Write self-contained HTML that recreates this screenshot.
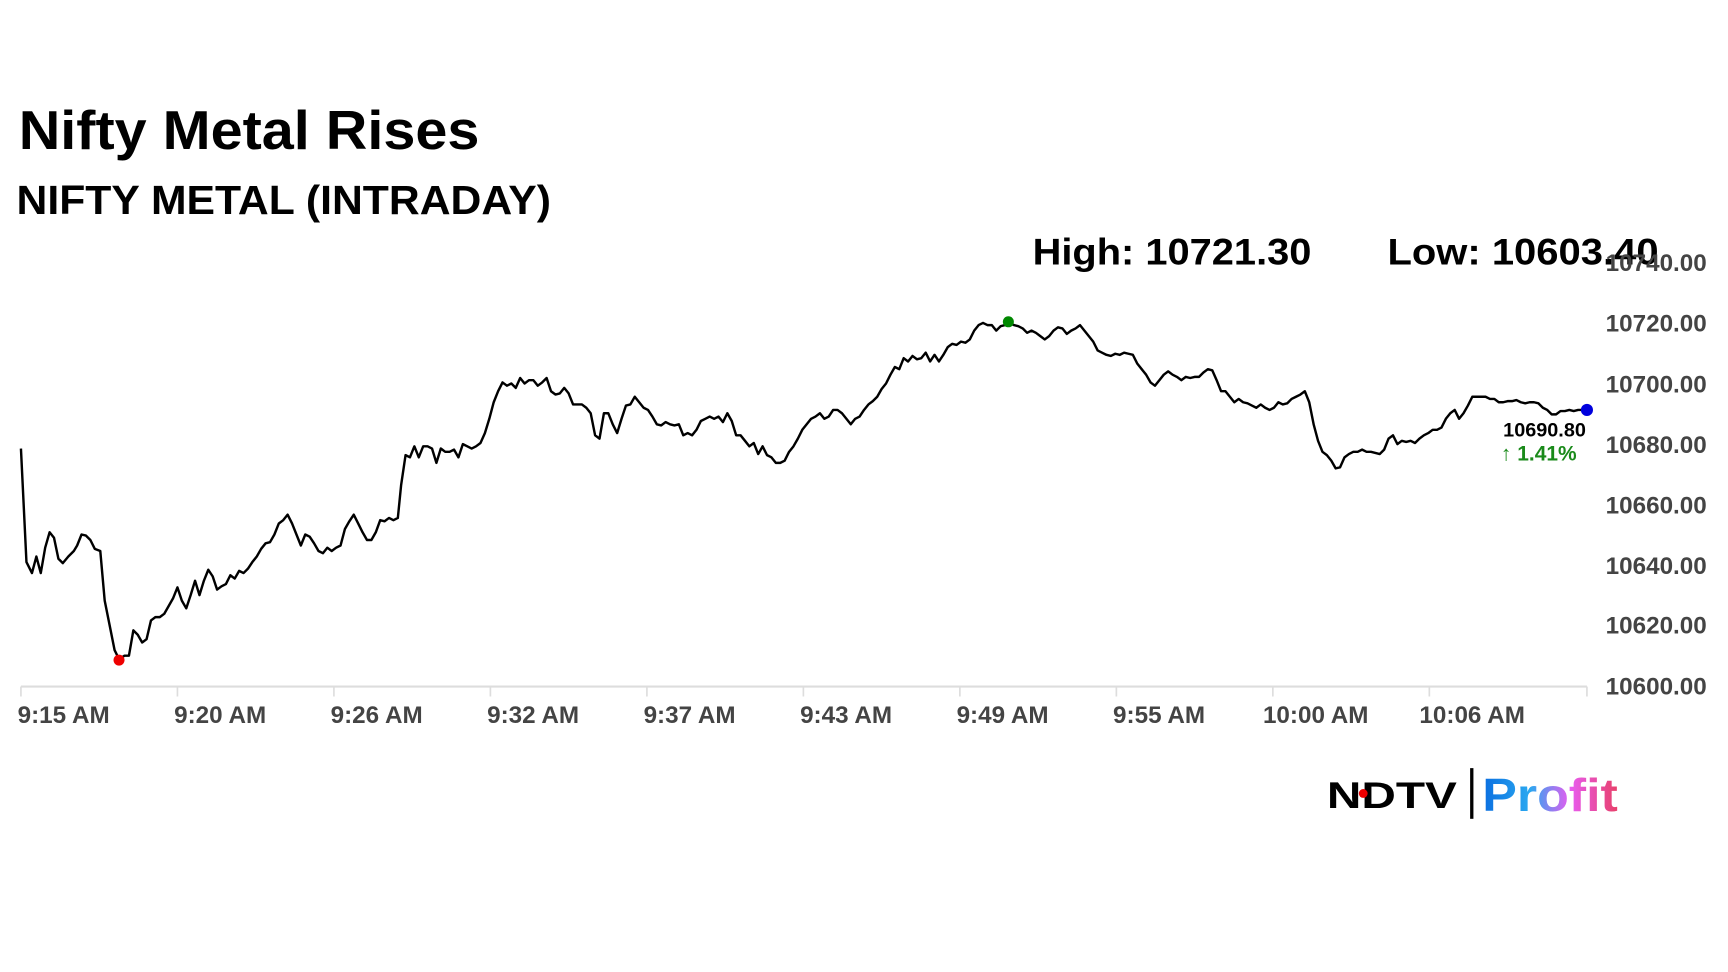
<!DOCTYPE html>
<html><head><meta charset="utf-8"><style>html,body{margin:0;padding:0;background:#fff;overflow:hidden}svg{display:block}</style></head>
<body>
<svg width="1728" height="972" viewBox="0 0 1568 882" xmlns="http://www.w3.org/2000/svg" font-family="Liberation Sans, Arial, sans-serif">
<rect width="1568" height="882" fill="#fff"/>
<text x="17" y="135" font-size="50" font-weight="bold" textLength="418" lengthAdjust="spacingAndGlyphs">Nifty Metal Rises</text>
<text x="15" y="194" font-size="37" font-weight="bold" textLength="485" lengthAdjust="spacingAndGlyphs">NIFTY METAL (INTRADAY)</text>
<text x="937" y="240" font-size="34" font-weight="bold" textLength="253" lengthAdjust="spacingAndGlyphs">High: 10721.30</text>
<text x="1259" y="240" font-size="34" font-weight="bold" textLength="246" lengthAdjust="spacingAndGlyphs">Low: 10603.40</text>
<g font-size="22" font-weight="bold" fill="#444">
<text x="1457" y="246">10740.00</text><text x="1457" y="301">10720.00</text><text x="1457" y="356">10700.00</text><text x="1457" y="411">10680.00</text><text x="1457" y="466">10660.00</text><text x="1457" y="521">10640.00</text><text x="1457" y="575">10620.00</text><text x="1457" y="630">10600.00</text>
</g>
<line x1="19" y1="623" x2="1440" y2="623" stroke="#ddd" stroke-width="2"/>
<g stroke="#ddd" stroke-width="1.5">
<line x1="19" y1="623" x2="19" y2="632"/><line x1="161" y1="623" x2="161" y2="632"/><line x1="303" y1="623" x2="303" y2="632"/><line x1="445" y1="623" x2="445" y2="632"/><line x1="587" y1="623" x2="587" y2="632"/><line x1="729" y1="623" x2="729" y2="632"/><line x1="871" y1="623" x2="871" y2="632"/><line x1="1013" y1="623" x2="1013" y2="632"/><line x1="1155" y1="623" x2="1155" y2="632"/><line x1="1297" y1="623" x2="1297" y2="632"/><line x1="1440" y1="623" x2="1440" y2="632"/>
</g>
<g font-size="22" font-weight="bold" fill="#444">
<text x="16" y="656">9:15 AM</text><text x="158" y="656">9:20 AM</text><text x="300" y="656">9:26 AM</text><text x="442" y="656">9:32 AM</text><text x="584" y="656">9:37 AM</text><text x="726" y="656">9:43 AM</text><text x="868" y="656">9:49 AM</text><text x="1010" y="656">9:55 AM</text><text x="1146" y="656">10:00 AM</text><text x="1288" y="656">10:06 AM</text>
</g>
<polyline fill="none" stroke="#000" stroke-width="2.2" stroke-linejoin="round" points="19,407 24,510 29,520 33,505 37,520 41,497 45,483 49,488 53,507 57,511 62,505 67,500 70,495 74,485 78,486 82,490 86,498 91,500 95,545 100,570 104,590 108,598 113,595 117,595 121,572 125,576 129,583 133,580 137,563 141,560 145,560 149,557 153,550 157,543 161,533 165,545 169,552 173,540 177,527 181,540 185,527 189,517 193,523 197,535 201,532 205,530 209,522 213,525 217,518 221,520 225,516 229,510 233,505 237,498 241,493 245,492 249,485 253,475 257,472 261,467 265,475 269,485 273,495 277,485 281,487 285,493 289,500 293,502 297,497 301,500 305,497 309,495 313,480 317,473 321,467 325,475 329,483 333,490 337,490 341,483 345,472 349,473 353,470 357,472 361,470 364,440 368,413 372,415 376,405 380,415 384,405 388,405 392,407 396,420 400,407 404,410 408,410 412,408 416,415 420,403 424,405 428,407 432,405 436,402 440,393 444,380 448,365 452,355 456,347 460,350 464,348 468,352 472,343 476,348 480,345 484,345 488,350 492,347 496,343 500,355 504,358 508,357 512,352 516,357 520,367 524,367 528,367 532,370 536,375 540,395 544,398 548,375 552,375 556,385 560,393 564,380 568,368 572,367 576,360 580,365 584,370 588,372 592,378 596,385 600,386 604,383 608,385 612,386 616,385 620,395 624,393 628,395 632,390 636,382 640,380 644,378 648,380 652,378 656,383 660,375 664,382 668,395 672,395 676,400 680,405 684,402 688,412 692,405 696,413 700,415 704,420 708,420 712,418 716,410 720,405 724,398 728,390 732,385 736,380 740,378 744,375 748,380 752,378 756,372 760,372 764,375 768,380 772,385 776,380 780,378 784,372 788,367 792,364 796,360 800,353 804,348 808,340 812,333 816,335 820,325 824,328 828,323 832,326 836,325 840,320 844,328 848,322 852,328 856,322 860,315 864,312 868,313 872,310 876,311 880,308 884,300 888,295 892,293 896,295 900,295 904,300 908,296 912,295 916,293 920,295 924,296 928,298 932,302 936,300 940,302 944,305 948,308 952,305 956,300 960,297 964,298 968,303 972,300 976,298 980,295 984,300 988,305 992,310 996,318 1000,320 1004,322 1008,323 1012,321 1016,322 1020,320 1024,321 1028,322 1032,330 1036,335 1040,340 1044,347 1048,350 1052,345 1056,340 1060,337 1064,340 1068,342 1072,345 1076,342 1080,343 1084,342 1088,342 1092,338 1096,335 1100,336 1104,345 1108,355 1112,355 1116,360 1120,365 1124,362 1128,365 1132,366 1136,368 1140,370 1144,367 1148,370 1152,372 1156,370 1160,365 1164,367 1168,366 1172,362 1176,360 1180,358 1184,355 1188,365 1192,385 1196,400 1200,410 1204,413 1208,418 1212,425 1216,424 1220,415 1224,412 1228,410 1232,410 1236,408 1240,410 1244,410 1248,411 1252,412 1256,408 1260,398 1264,395 1268,403 1272,400 1276,401 1280,400 1284,402 1288,398 1292,395 1296,393 1300,390 1304,390 1308,388 1312,380 1316,375 1320,372 1324,380 1328,375 1332,368 1336,360 1340,360 1344,360 1348,360 1352,362 1356,362 1360,365 1364,365 1368,364 1372,364 1376,363 1380,365 1384,366 1388,365 1392,365 1396,366 1400,370 1404,372 1408,376 1412,376 1416,373 1420,373 1424,372 1428,373 1432,372 1436,372 1440,372"/>
<circle cx="108" cy="599" r="5" fill="#e00"/>
<circle cx="915" cy="292" r="5" fill="#080"/>
<circle cx="1440" cy="372" r="5.5" fill="#00d"/>
<text x="1364" y="396" font-size="18" font-weight="bold" fill="#000">10690.80</text>
<text x="1362" y="418" font-size="19" font-weight="bold" fill="#1a8a1a">↑ 1.41%</text>
<defs><linearGradient id="pg" x1="0" x2="1" y1="0" y2="0"><stop offset="0" stop-color="#0a6ee0"/><stop offset="0.35" stop-color="#2aa8f0"/><stop offset="0.65" stop-color="#e85cf0"/><stop offset="1" stop-color="#e8406a"/></linearGradient></defs>
<text x="1204" y="733" font-size="34" font-weight="900" fill="#000" textLength="118" lengthAdjust="spacingAndGlyphs" font-family="Liberation Sans, sans-serif">NDTV</text>
<circle cx="1237" cy="720" r="4" fill="#e00"/>
<rect x="1334" y="697" width="3" height="46" fill="#000"/>
<text x="1345" y="736" font-size="42" font-weight="bold" fill="url(#pg)" textLength="123" lengthAdjust="spacingAndGlyphs">Profit</text>
</svg>
</body></html>
